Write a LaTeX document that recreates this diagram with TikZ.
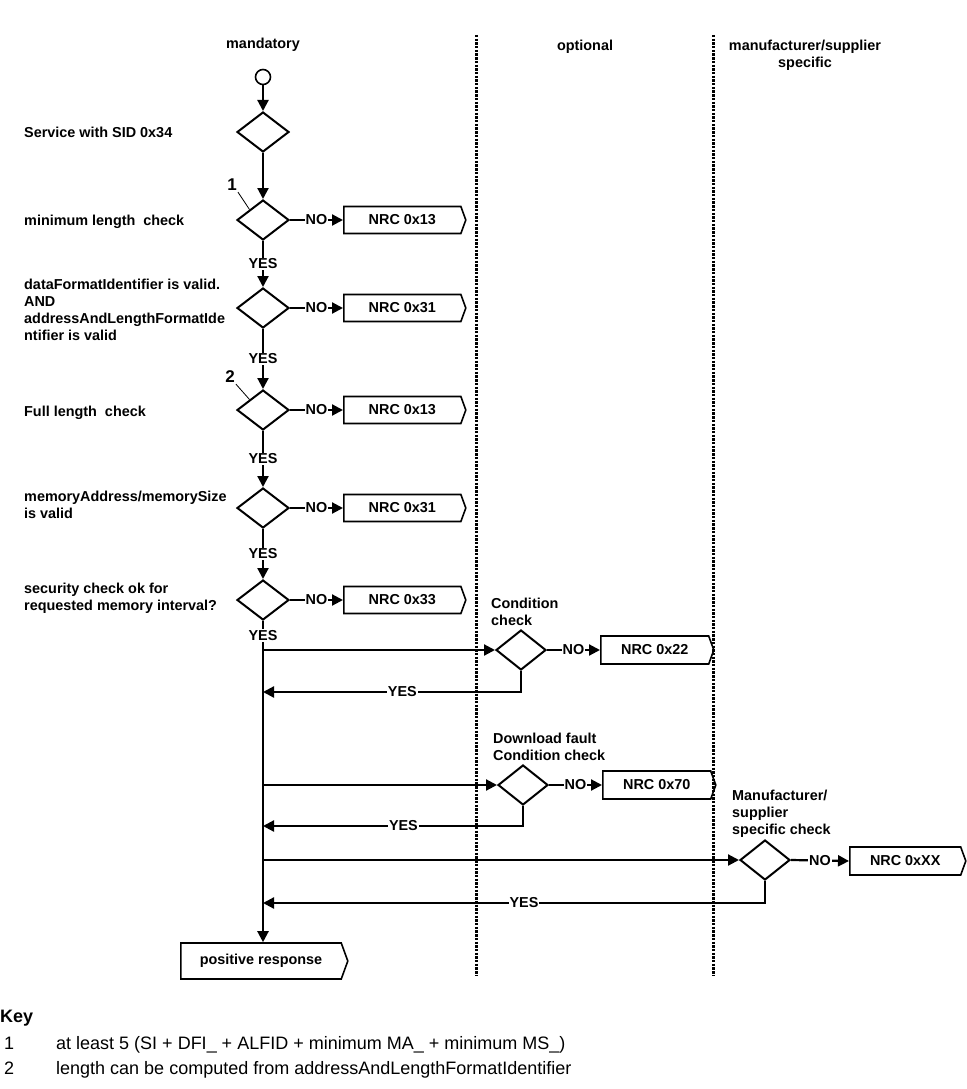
\documentclass[tikz,border=0pt]{standalone}
\usepackage{fontspec}
\setmainfont{Liberation Sans}
\usetikzlibrary{shapes.geometric,shapes.symbols,arrows.meta}
\begin{document}
\begin{tikzpicture}[x=1pt,y=-1pt,
  font=\bfseries\fontsize{14.4}{17}\selectfont,
  dia/.style={diamond,draw,line width=2pt,minimum width=52,minimum height=40,inner sep=0pt},
  nrc/.style={signal,signal to=east,signal pointer angle=140,draw,line width=1.6pt,minimum height=27,minimum width=122,inner sep=0pt,anchor=west},
  conn/.style={line width=2.2pt},
  arr/.style={-{Triangle[length=11pt,width=11pt]}},
  lbl/.style={fill=white,inner sep=1pt},
  lefttxt/.style={anchor=west,align=left,inner sep=0pt},
  sep/.style={line width=3pt,dash pattern=on 2.4pt off 1.3pt},
  callout/.style={line width=0.8pt},
  keytxt/.style={anchor=base west,inner sep=0pt,font=\mdseries\fontsize{18}{22}\selectfont},
]
\useasboundingbox (0,0) rectangle (966,1089);

% column separators
\draw[sep] (476,35) -- (476,975);
\draw[sep] (713,35) -- (713,975);

% headers
\node (h1) at (263,45) {mandatory};
\node (h2) at (585,47) {optional};
\node[align=center] (h3) at (805,55) {manufacturer/supplier\\specific};

% left labels
\node[lefttxt] (l1) at (24,132) {Service with SID 0x34};
\node[lefttxt] (l2) at (24,222) {minimum length\ \ check};
\node[lefttxt] (l3) at (24,310) {dataFormatIdentifier is valid.\\AND\\addressAndLengthFormatIde\\ntifier is valid};
\node[lefttxt] (l4) at (24,413) {Full length\ \ check};
\node[lefttxt] (l5) at (24,505) {memoryAddress/memorySize\\is valid};
\node[lefttxt] (l6) at (24,598) {security check ok for\\requested memory interval?};

% main column
\node[circle,draw,line width=1.6pt,minimum size=15,inner sep=0pt] (start) at (263,77) {};
\node[dia] (d1) at (263,132) {};
\node[dia] (d2) at (263,220) {};
\node[dia] (d3) at (263,308) {};
\node[dia] (d4) at (263,410) {};
\node[dia] (d5) at (263,508) {};
\node[dia] (d6) at (263,600) {};

\node[nrc] (b1) at (343,220) {NRC 0x13};
\node[nrc] (b2) at (343,308) {NRC 0x31};
\node[nrc] (b3) at (343,410) {NRC 0x13};
\node[nrc] (b4) at (343,508) {NRC 0x31};
\node[nrc] (b5) at (343,600) {NRC 0x33};

\node[nrc,minimum width=167,minimum height=36] (pr) at (180,961) {positive response};

% callouts
\node[inner sep=1pt,font=\bfseries\fontsize{17}{20}\selectfont] (c1) at (232,185) {1};
\node[inner sep=1pt,font=\bfseries\fontsize{17}{20}\selectfont] (c2) at (230,377) {2};
\draw[callout] (c1.south east) -- (d2.north west);
\draw[callout] (c2.south east) -- (d4.north west);

% main connectors
\draw[conn,arr] (start) -- (d1.north);
\draw[conn,arr] (d1.south) -- (d2.north);
\draw[conn,arr] (d2.south) -- node[lbl]{YES} (d3.north);
\draw[conn,arr] (d3.south) -- node[lbl]{YES} (d4.north);
\draw[conn,arr] (d4.south) -- node[lbl]{YES} (d5.north);
\draw[conn,arr] (d5.south) -- node[lbl]{YES} (d6.north);
\draw[conn,arr] (d6.south) -- node[lbl,pos=0.045]{YES} (d6.south |- pr.north);

\draw[conn,arr] (d2.east) -- node[lbl]{NO} (b1.west);
\draw[conn,arr] (d3.east) -- node[lbl]{NO} (b2.west);
\draw[conn,arr] (d4.east) -- node[lbl]{NO} (b3.west);
\draw[conn,arr] (d5.east) -- node[lbl]{NO} (b4.west);
\draw[conn,arr] (d6.east) -- node[lbl]{NO} (b5.west);

% optional checks
\node[dia,minimum width=50] (d7) at (521,650) {};
\node[dia,minimum width=50] (d8) at (523,785) {};
\node[dia,minimum width=50] (d9) at (765,860) {};

\node[lefttxt] (t7) at (491,612) {Condition\\check};
\node[lefttxt] (t8) at (493,747) {Download fault\\Condition check};
\node[lefttxt] (t9) at (732,814) {Manufacturer/\\supplier\\specific check};

\node[nrc,minimum width=113,minimum height=28] (b6) at (600,650) {NRC 0x22};
\node[nrc,minimum width=113,minimum height=28] (b7) at (602,785) {NRC 0x70};
\node[nrc,minimum width=116,minimum height=28] (b8) at (849,861) {NRC 0xXX};

\coordinate (r1) at (263,692);
\coordinate (r2) at (263,826);
\coordinate (r3) at (263,903);

\draw[conn,arr] (d6.south |- d7.west) -- (d7.west);
\draw[conn,arr] (d6.south |- d8.west) -- (d8.west);
\draw[conn,arr] (d6.south |- d9.west) -- (d9.west);

\draw[conn,arr] (d7.east) -- node[lbl]{NO} (b6.west);
\draw[conn,arr] (d8.east) -- node[lbl]{NO} (b7.west);
\draw[conn,arr] (d9.east) -- node[lbl]{NO} (b8.west);

\draw[conn,arr] (d7.south) |- node[lbl,pos=0.73]{YES} (r1);
\draw[conn,arr] (d8.south) |- node[lbl,pos=0.73]{YES} (r2);
\draw[conn,arr] (d9.south) |- node[lbl,pos=0.74]{YES} (r3);

% key
\node[anchor=base west,inner sep=0pt,font=\bfseries\fontsize{18}{22}\selectfont] (key) at (0,1022) {Key};
\node[keytxt] (k1n) at (4,1049) {1};
\node[keytxt] (k1) at (56,1049) {at least 5 (SI + DFI\_ + ALFID + minimum MA\_ + minimum MS\_)};
\node[keytxt] (k2n) at (4,1074) {2};
\node[keytxt] (k2) at (56,1074) {length can be computed from addressAndLengthFormatIdentifier};
\end{tikzpicture}
\end{document}
